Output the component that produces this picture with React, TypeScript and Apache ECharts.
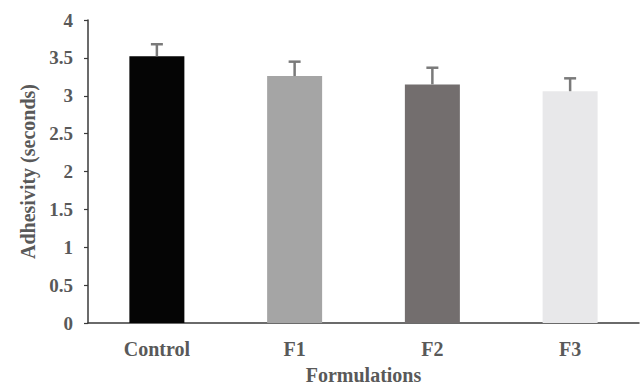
import React, { useEffect, useRef } from "react";
import * as echarts from "echarts";

const categories = ["Control", "F1", "F2", "F3"];
const means = [3.52, 3.26, 3.15, 3.06];
const errors = [0.16, 0.19, 0.22, 0.17];
const barColors = ["#050505", "#a5a5a5", "#736e6e", "#e8e8ea"];
const yTicks = [0, 0.5, 1, 1.5, 2, 2.5, 3, 3.5, 4];

const FONT = "'Liberation Serif', 'DejaVu Serif', serif";
const TEXT = "#595959";

export default function App() {
  const ref = useRef<HTMLDivElement>(null);
  useEffect(() => {
    const chart = echarts.init(ref.current!, undefined, { renderer: "svg" });
    chart.setOption({
      animation: false,
      backgroundColor: "#ffffff",
      grid: { left: 88, right: 4, top: 20, bottom: 65, outerBoundsMode: "none", containLabel: false },
      xAxis: {
        type: "category",
        data: categories,
        name: "Formulations",
        nameLocation: "middle",
        nameGap: 42,
        nameTextStyle: { fontFamily: FONT, fontWeight: "bold", fontSize: 20, lineHeight: 20, color: TEXT },
        axisLine: { lineStyle: { color: "#3a3a3a", width: 1.5 } },
        axisTick: { show: false },
        axisLabel: { fontFamily: FONT, fontWeight: "bold", fontSize: 20, color: TEXT, margin: 16 },
      },
      yAxis: {
        type: "value",
        min: 0,
        max: 4,
        interval: 0.5,
        name: "Adhesivity (seconds)",
        nameLocation: "middle",
        nameGap: 48,
        nameTextStyle: { fontFamily: FONT, fontWeight: "bold", fontSize: 20, color: TEXT },
        axisLine: { show: true, lineStyle: { color: "#3a3a3a", width: 1.5 } },
        axisTick: { show: true, length: 4, lineStyle: { color: "#3a3a3a", width: 1.2 } },
        splitLine: { show: false },
        axisLabel: {
          fontFamily: FONT,
          fontWeight: "bold",
          fontSize: 19,
          color: TEXT,
          margin: 15,
          formatter: (v: number) => (yTicks.includes(v) ? String(v) : ""),
        },
      },
      series: [
        {
          type: "bar",
          barWidth: 55,
          data: means.map((v, i) => ({ value: v, itemStyle: { color: barColors[i] } })),
        },
        {
          type: "custom",
          data: means.map((m, i) => [i, m, m + errors[i]]),
          renderItem: (params: any, api: any) => {
            const x = api.value(0);
            const base = api.coord([x, api.value(1)]);
            const top = api.coord([x, api.value(2)]);
            const half = 6;
            const style = { stroke: "#7a7a7a", lineWidth: 2.5 };
            return {
              type: "group",
              children: [
                { type: "line", shape: { x1: base[0], y1: base[1], x2: top[0], y2: top[1] }, style },
                { type: "line", shape: { x1: top[0] - half, y1: top[1], x2: top[0] + half, y2: top[1] }, style },
              ],
            };
          },
          z: 10,
        },
      ],
    });
    return () => chart.dispose();
  }, []);
  return <div ref={ref} style={{ width: 643, height: 388, position: "absolute", left: 0, top: 0 }} />;
}
